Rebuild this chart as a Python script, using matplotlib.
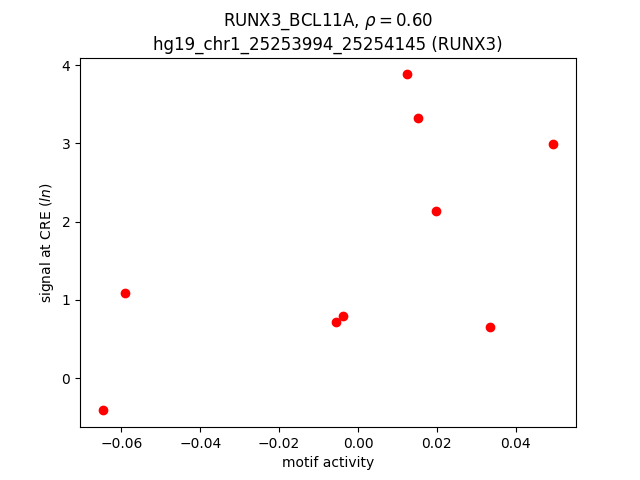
import matplotlib
matplotlib.use("Agg")
import matplotlib.pyplot as plt

motif_activity = [-0.0648, -0.0590, -0.0056, -0.0038, 0.0125, 0.0152, 0.0198, 0.0335, 0.0496]
cre_signal = [-0.41, 1.09, 0.72, 0.79, 3.88, 3.32, 2.13, 0.65, 2.99]

fig, ax = plt.subplots(figsize=(6.4, 4.8))
ax.scatter(motif_activity, cre_signal, color="red")
ax.set_xlabel("motif activity")
ax.set_ylabel("signal at CRE ($ln$)")
ax.set_title("RUNX3_BCL11A, $\\rho = 0.60$\nhg19_chr1_25253994_25254145 (RUNX3)")
fig.savefig("out.png", dpi=100)
